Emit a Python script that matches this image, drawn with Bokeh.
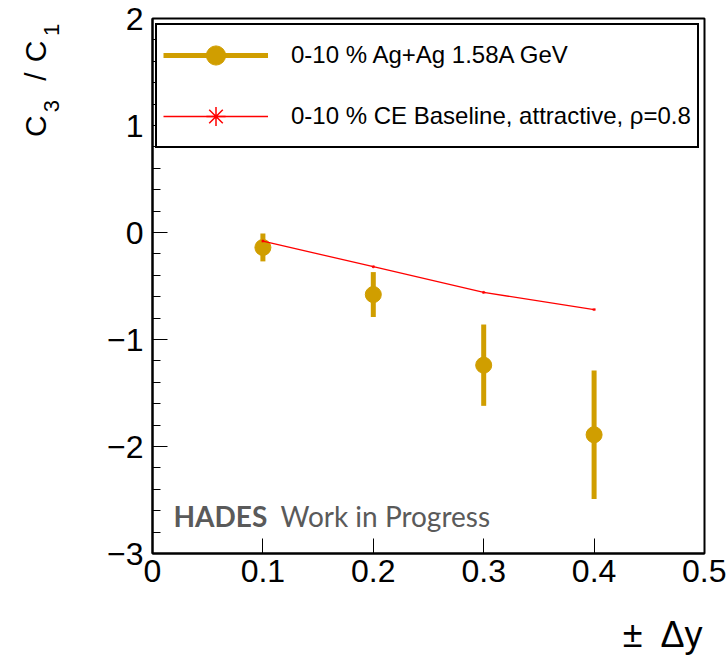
import math

from bokeh.core.properties import value
from bokeh.embed import file_html
from bokeh.layouts import column, row
from bokeh.models import FixedTicker, Label, Legend, LegendItem, Range1d
from bokeh.plotting import figure
from bokeh.resources import INLINE

# Measured C3/C1 versus rapidity window half-width
dy = [0.1, 0.2, 0.3, 0.4]
c3c1 = [-0.14, -0.58, -1.24, -1.89]
c3c1_err = [0.13, 0.21, 0.38, 0.60]

# Canonical-ensemble baseline (attractive, rho = 0.8)
ce_dy = [0.1, 0.2, 0.3, 0.4]
ce_c3c1 = [-0.08, -0.32, -0.56, -0.72]

x_ticks = [0, 0.1, 0.2, 0.3, 0.4, 0.5]
x_tick_labels = ["0", "0.1", "0.2", "0.3", "0.4", "0.5"]
y_ticks = [-3, -2, -1, 0, 1, 2]
y_tick_labels = ["\u22123", "\u22122", "\u22121", "0", "1", "2"]

series_labels = ["0-10 % Ag+Ag 1.58A GeV", "0-10 % CE Baseline, attractive, \u03c1=0.8"]

GOLD = "#D09E00"
FONT = "Liberation Sans"
MID = 0.35   # distance from the em-box middle down to the baseline, in em

# page geometry: y-title strip | main plot, with the x-title strip underneath
W, H = 726, 656
YT_W = 100            # width of the strip holding the y title
XT_H = 46             # height of the strip holding the x title
LEFT, RIGHT, TOP = 152, 22, 18
MAIN_W, MAIN_H = W - YT_W, H - XT_H
X0, X1, Y0, Y1 = 0.0, 0.5, -3.0, 2.0
FW = W - LEFT - RIGHT
FH = 535


def dx(px):
    """Page pixel column -> data x of the main plot."""
    return X0 + (px - LEFT) * (X1 - X0) / FW


def dyv(py):
    """Page pixel row -> data y of the main plot."""
    return Y1 - (py - TOP) * (Y1 - Y0) / FH


p = figure(
    width=MAIN_W, height=MAIN_H,
    x_range=Range1d(X0, X1), y_range=Range1d(Y0, Y1),
    output_backend="svg", toolbar_location=None, title=None,
    min_border_left=LEFT - YT_W, min_border_right=RIGHT,
    min_border_top=TOP, min_border_bottom=MAIN_H - TOP - FH,
)
p.xgrid.visible = False
p.ygrid.visible = False
p.background_fill_color = "white"
p.border_fill_color = "white"
p.outline_line_color = "black"
p.outline_line_width = 2

# axes: ticks pointing into the frame
p.xaxis.ticker = FixedTicker(ticks=x_ticks, minor_ticks=[])
p.xaxis.major_label_overrides = {t: s for t, s in zip(x_ticks, x_tick_labels)}
minor_y = [round(Y0 + 0.2 * i, 1) for i in range(26)]
p.yaxis.ticker = FixedTicker(ticks=y_ticks, minor_ticks=minor_y)
p.yaxis.major_label_overrides = {t: s for t, s in zip(y_ticks, y_tick_labels)}
for ax in (p.xaxis, p.yaxis):
    ax.axis_line_color = "black"
    ax.axis_line_width = 2
    ax.major_tick_in = 15
    ax.major_tick_out = 0
    ax.minor_tick_in = 8
    ax.minor_tick_out = 0
    ax.major_tick_line_color = "black"
    ax.minor_tick_line_color = "black"
    ax.major_label_text_font = FONT
    ax.major_label_text_font_size = "32px"
    ax.major_label_text_color = "black"
p.xaxis.major_label_standoff = 6
p.yaxis.major_label_standoff = 9

# data
lo = [v - e for v, e in zip(c3c1, c3c1_err)]
hi = [v + e for v, e in zip(c3c1, c3c1_err)]
err_r = p.segment(x0=dy, y0=lo, x1=dy, y1=hi, line_color=GOLD, line_width=5)
pts_r = p.scatter(dy, c3c1, size=16, fill_color=GOLD, line_color=GOLD)

ce_line = p.line(ce_dy, ce_c3c1, line_color="red", line_width=1.3)
ce_pts = p.scatter(ce_dy, ce_c3c1, marker="asterisk", size=3, line_color="red")
# legend key for the baseline marker (a single undrawn point)
ce_key = p.scatter(x=[float("nan")], y=[float("nan")], marker="asterisk", size=7,
                   line_color="red", line_width=1.5)

legend = Legend(
    items=[
        LegendItem(label=series_labels[0], renderers=[err_r, pts_r]),
        LegendItem(label=series_labels[1], renderers=[ce_line, ce_key]),
    ],
    location=(3, FH - 9 - 121),
    margin=0, padding=6, spacing=13,
    glyph_width=105, glyph_height=48, label_standoff=23,
    border_line_color="black", border_line_width=2, border_line_alpha=1.0,
    background_fill_color="white", background_fill_alpha=1.0,
    label_text_font=FONT, label_text_font_size="24px", label_text_color="black",
)
p.add_layout(legend)

# experiment tag (baseline at row 525)
for text, px, style in (("HADES", 173, "bold"), ("Work in Progress", 280, "normal")):
    p.add_layout(Label(x=dx(px), y=dyv(525 - MID * 28), text=text, text_font="Lato",
                       text_font_style=style, text_font_size="28px",
                       text_color="#5a5a5a", text_baseline="middle"))


def text_strip(width, height):
    """A bare figure whose data units are its own pixels (origin bottom-left)."""
    f = figure(width=width, height=height, x_range=Range1d(0, width),
               y_range=Range1d(0, height), x_axis_type=None, y_axis_type=None,
               output_backend="svg", toolbar_location=None, title=None,
               min_border=0, min_border_left=0, min_border_right=0,
               min_border_top=0, min_border_bottom=0)
    f.grid.visible = False
    f.outline_line_color = None
    f.background_fill_color = "white"
    f.border_fill_color = "white"
    return f


# y title "C3 / C1", read bottom to top; subscripts shifted toward the frame
yt = text_strip(YT_W, MAIN_H)
main_parts = dict(text=["C", "/", "C"], base=45, size=30, y=[135, 71, 50])
sub_parts = dict(text=["3", "1"], base=59, size=22, y=[107, 20])
for parts in (main_parts, sub_parts):
    n = len(parts["text"])
    yt.text(x=[parts["base"] - MID * parts["size"]] * n,
            y=[MAIN_H - v for v in parts["y"]], text=parts["text"],
            angle=math.pi / 2, text_font=value(FONT),
            text_font_size=f"{parts['size']}px", text_color="black",
            text_align="left", text_baseline="middle")

# x title, right-aligned below the frame (baseline at row 647)
xt = text_strip(W, XT_H)
xt.text(x=[702], y=[H - (647 - MID * 36)], text=["\u00b1\u2002\u0394y"],
        text_font=value(FONT), text_font_size="36px", text_color="black",
        text_align="right", text_baseline="middle")

layout = column(row(yt, p, spacing=0), xt, spacing=0)
open("out.html", "w").write(file_html(layout, INLINE))
